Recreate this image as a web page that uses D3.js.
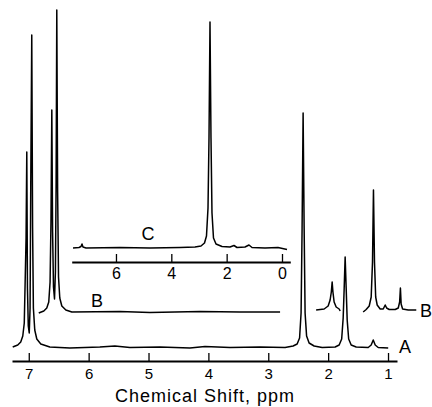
<!DOCTYPE html>
<html>
<head>
<meta charset="utf-8">
<script src="https://cdn.jsdelivr.net/npm/d3@7"></script>
<style>
  body { margin: 0; background: #fff; }
  text { font-family: "Liberation Sans", Arial, sans-serif; fill: #000; }
</style>
</head>
<body>
<svg id="chart" width="432" height="407"></svg>
<script>
// spectrum A : [shift ppm, intensity]
const traceA = [
  [7.268, 1], [7.184, 3], [7.134, 6], [7.100, 12], [7.075, 25], [7.059, 70], [7.045, 110],
  [7.033, 196], [7.022, 60], [7.008, 22], [6.992, 15], [6.978, 40], [6.967, 160],
  [6.950, 313], [6.936, 120], [6.923, 40], [6.900, 18], [6.866, 9], [6.799, 4], [6.649, 1],
  [6.314, 0], [5.813, 1], [5.562, 2], [5.311, 0.5], [4.809, 1], [4.308, 0], [4.057, 1.5],
  [3.639, 0.5], [3.137, 1], [2.719, 0.5], [2.585, 2], [2.518, 4], [2.477, 10], [2.452, 35],
  [2.435, 120], [2.418, 235], [2.401, 120], [2.385, 35], [2.360, 12], [2.318, 5], [2.234, 2],
  [2.100, 0.5], [1.883, 1], [1.816, 3], [1.774, 9], [1.749, 30], [1.732, 60], [1.716, 91],
  [1.699, 60], [1.682, 28], [1.657, 9], [1.615, 3], [1.532, 1], [1.331, 0.5], [1.281, 3],
  [1.247, 8], [1.214, 3], [1.164, 0.5], [0.997, 0]
]

// spectrum B, offset trace, three pieces (shift as read on the main axis)
const traceB1 = [
  [6.833, -1], [6.749, 1], [6.699, 4], [6.666, 10], [6.644, 30], [6.629, 90], [6.615, 202],
  [6.602, 80], [6.587, 25], [6.570, 13], [6.555, 40], [6.543, 130], [6.532, 302], [6.518, 120],
  [6.503, 35], [6.482, 14], [6.448, 6], [6.381, 2], [6.281, 0], [5.478, 0.5], [4.977, -0.5],
  [4.140, 0.5], [3.472, 0], [2.803, 0]
]
const traceB2 = [
  [2.201, 2], [2.067, 3], [2.000, 6], [1.967, 12], [1.947, 20], [1.933, 30], [1.920, 20],
  [1.900, 10], [1.866, 5], [1.816, 3], [1.799, 1]
]
const traceB3 = [
  [1.415, 0], [1.365, 2.5], [1.314, 6], [1.281, 15], [1.259, 50], [1.243, 122], [1.226, 50],
  [1.206, 15], [1.181, 7], [1.131, 3], [1.080, 3], [1.047, 7], [1.023, 4], [0.980, 2.5],
  [0.880, 2.5], [0.829, 4], [0.806, 10], [0.793, 24], [0.781, 8], [0.756, 3], [0.662, 2],
  [0.528, 2]
]

// spectrum C (inset)
const traceC = [
  [7.553, 0], [7.336, 0.5], [7.264, 1.5], [7.228, 4], [7.192, 1], [7.083, 0], [5.855, 0.5],
  [4.770, 0], [3.686, 0.5], [3.144, 1], [2.927, 2], [2.801, 5], [2.729, 12], [2.674, 40],
  [2.638, 110], [2.602, 226], [2.566, 110], [2.530, 35], [2.476, 10], [2.385, 4], [2.168, 1.5],
  [1.879, 1], [1.735, 2.5], [1.626, 0.5], [1.337, 1], [1.193, 3], [1.084, 0.5], [0.614, 0],
  [0.145, 0.5], [-0.181, -1.5]
]

const mainTicks = [7, 6, 5, 4, 3, 2, 1]
const insetTicks = [6, 4, 2, 0]
const axisTitle = "Chemical Shift, ppm"

const svg = d3.select("#chart")

const x = d3.scaleLinear().domain([7.28, 0.85]).range([12, 397])
const xc = d3.scaleLinear().domain([7.6, -0.3]).range([71.7, 290.3])
const y = d3.scaleLinear().domain([0, 340]).range([0, -340])

const lineMain = d3.line().x(d => x(d[0])).y(d => y(d[1]))
const lineInset = d3.line().x(d => xc(d[0])).y(d => y(d[1]))

function drawTrace(base, data, gen) {
  svg.append("g")
    .attr("transform", `translate(0,${base})`)
    .append("path")
    .datum(data)
    .attr("d", gen)
    .attr("fill", "none")
    .attr("stroke", "#000")
    .attr("stroke-width", 1.5)
    .attr("stroke-linejoin", "round")
}

drawTrace(348, traceA, lineMain)
drawTrace(312, traceB1, lineMain)
drawTrace(312, traceB2, lineMain)
drawTrace(312, traceB3, lineMain)
drawTrace(248, traceC, lineInset)

function styleAxis(g, size) {
  g.attr("font-family", null).attr("font-size", null)
  g.select(".domain").attr("stroke-width", 1.8)
  g.selectAll(".tick line").attr("stroke-width", 1.3)
  g.selectAll(".tick text").style("font-size", size + "px")
}

svg.append("g")
  .attr("transform", "translate(0,361)")
  .call(d3.axisBottom(x).tickValues(mainTicks).tickFormat(d3.format("d"))
    .tickSizeInner(-8).tickSizeOuter(0).tickPadding(7))
  .call(g => styleAxis(g, 15))

svg.append("g")
  .attr("transform", "translate(0,262)")
  .call(d3.axisBottom(xc).tickValues(insetTicks).tickFormat(d3.format("d"))
    .tickSizeInner(-8).tickSizeOuter(0).tickPadding(6))
  .call(g => styleAxis(g, 16))

svg.append("text")
  .attr("x", 205)
  .attr("y", 402)
  .attr("text-anchor", "middle")
  .style("font-size", "18px")
  .style("letter-spacing", "1px")
  .text(axisTitle)

const labels = [
  { t: "A", x: 405, y: 353 },
  { t: "B", x: 97, y: 307 },
  { t: "B", x: 426, y: 317 },
  { t: "C", x: 148, y: 240 }
]

svg.selectAll(".lbl")
  .data(labels)
  .enter()
  .append("text")
  .attr("class", "lbl")
  .attr("x", d => d.x)
  .attr("y", d => d.y)
  .attr("text-anchor", "middle")
  .style("font-size", "18px")
  .text(d => d.t)
</script>
</body>
</html>
